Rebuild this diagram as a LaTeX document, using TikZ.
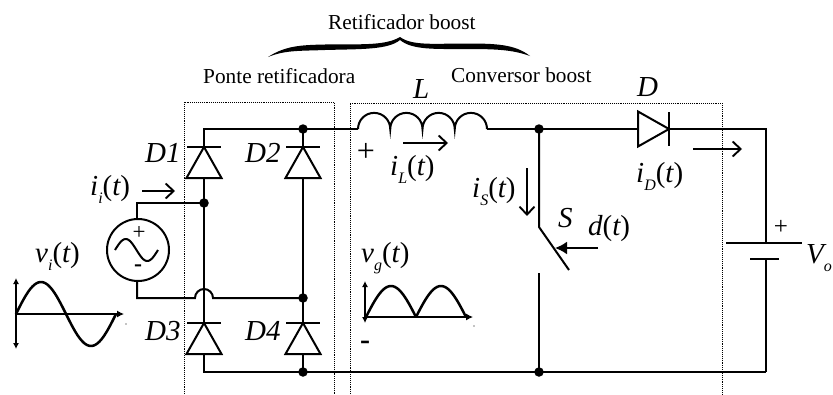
\documentclass[tikz,border=0pt]{standalone}
\usepackage{fontspec}
\setmainfont{Liberation Serif}
\usepackage{tikz}
\usetikzlibrary{arrows.meta,positioning,calc}

\newcommand{\subtxt}[1]{\raisebox{-.28em}{\fontsize{16}{16}\selectfont #1}}
\newcommand{\sigt}[2]{#1\subtxt{#2}{\upshape(}t{\upshape)}}

\tikzset{
  wire/.style={line width=2pt},
  thinwire/.style={line width=1.1pt},
  boxline/.style={line width=.9pt,densely dotted},
  openarrow/.style={line width=1.9pt,-{Straight Barb[length=8pt,width=15pt,line width=1.9pt]}},
  axisline/.style={line width=1.1pt,{Latex[length=6pt,width=6pt]}-{Latex[length=6pt,width=6pt]}},
  jdot/.style={circle,fill=black,inner sep=0pt,minimum size=9.5pt},
  lbl/.style={anchor=base west,inner sep=0pt,font=\fontsize{29}{31}\selectfont\itshape},
  txt/.style={anchor=base west,inner sep=0pt,font=\fontsize{21.3}{24}\selectfont},
  sgn/.style={inner sep=0pt,font=\fontsize{#1}{#1}\selectfont},
  diode/.pic={
    \coordinate (k) at (0,0);
    \coordinate (a) at (0,31);
    \draw[wire] (-17,0) -- (17,0);
    \draw[wire,line join=miter] (0,0) -- (17.5,31) -- (-17.5,31) -- cycle;
  }
}

\begin{document}
\begin{tikzpicture}[x=1pt,y=-1pt]
  \useasboundingbox (0,0) rectangle (833,394);

  % dotted blocks
  \draw[boxline] (184,394) -- (184,102) -- (334,102) -- (334,394);
  \draw[boxline] (350,394) -- (350,103) -- (722,103) -- (722,394);

  % junctions
  \node[jdot] (jtop)  at (303,129) {};
  \node[jdot] (jsrc)  at (204,203) {};
  \node[jdot] (jmid)  at (303,298) {};
  \node[jdot] (jbot)  at (303,372) {};
  \node[jdot] (jsw)   at (539,129) {};
  \node[jdot] (jswb)  at (539,372) {};

  % bridge
  \pic (D1) at (204,147) {diode};
  \pic (D2) at (303,147) {diode};
  \pic (D3) at (204,323) {diode};
  \pic (D4) at (303,323) {diode};
  \coordinate (tl) at (204,129);
  \coordinate (bl) at (204,372);
  \coordinate (hopl) at (195,298);
  \coordinate (br) at (766,372);
  \coordinate (tr) at (766,129);
  \draw[wire] (D1k) -- (tl) -- (jtop.center) -- (D2k);
  \draw[wire] (D1a) -- (jsrc.center) -- (D3k);
  \draw[wire] (D2a) -- (jmid.center) -- (D4k);
  \draw[wire] (D3a) -- (bl) -- (jbot.center) -- (D4a);

  % source
  \node[circle,draw,line width=2pt,minimum size=62pt,inner sep=0pt] (src) at (138,250) {};
  \coordinate (srct) at (137,203);
  \coordinate (srcb) at (137,298);
  \draw[wire] (jsrc.center) -- (srct) -- (src.north -| srct);
  \draw[wire] (src.south -| srcb) -- (srcb) -- (hopl)
    arc[start angle=180,end angle=360,radius=9] -- (jmid.center);
  \draw[wire] plot[domain=0:360,samples=40,smooth] ({115+\x/360*43},{250-11*sin(\x)});
  \node[sgn=23] (srcp) at (139,233) {+};
  \node[sgn=24,font=\fontsize{24}{24}\selectfont\bfseries] (srcm) at (138,268) {-};

  % inductor
  \coordinate (L1) at (358,129);
  \coordinate (L2) at (487,129);
  \draw[wire] (jtop.center) -- (L1);
  \draw[wire] (L1) \foreach \i in {1,...,4} {arc[start angle=180,end angle=360,radius=16.125]};
  \draw[wire] (L2) -- (jsw.center);

  % switch
  \coordinate (swa) at (539,227);
  \coordinate (swe) at (569,270);
  \coordinate (swb) at (539,273);
  \draw[wire] (jsw.center) -- (swa) -- (swe);
  \draw[wire] (swb) -- (jswb.center);
  \draw[wire] (jbot.center) -- (jswb.center) -- (br);

  % output diode and battery
  \pic[rotate=-90] (D5) at (669,129) {diode};
  \coordinate (bath) at (766,243);
  \coordinate (batl) at (766,259);
  \draw[wire] (jsw.center) -- (D5a);
  \draw[wire] (D5k) -- (tr) -- (bath);
  \draw[wire] (batl) -- (br);
  \draw[wire] (726,243) -- (802,243);
  \draw[wire] (750,259) -- (779,259);
  \node[sgn=25] (batp) at (781,227) {+};

  % current arrows
  \draw[openarrow] (142,191) -- (175,191);
  \draw[openarrow] (403,143) -- (448,143);
  \draw[openarrow] (693,149) -- (742,149);
  \draw[openarrow] (527,168) -- (527,216);
  \draw[wire,-{Latex[length=12pt,width=13pt]}] (598,248) -- (555,248);

  % input waveform
  \draw[axisline] (16,278) -- (16,349);
  \draw[thinwire,-{Latex[length=7pt,width=7pt]}] (16,314) -- (124,314);
  \draw[line width=2.5pt] plot[domain=0:360,samples=50,smooth] ({16+\x/3.6},{314-32*sin(\x)});
  \fill (126,324) circle (.6);

  % rectified waveform
  \draw[axisline] (365,281) -- (365,323);
  \draw[thinwire,-{Latex[length=7pt,width=7pt]}] (365,317) -- (473,317);
  \draw[line width=2.5pt] plot[domain=0:360,samples=60] ({366+\x/3.6},{317-31*abs(sin(\x))});
  \fill (474,326) circle (.6);
  \node[sgn=30,font=\fontsize{30}{30}\selectfont\bfseries] (vgm) at (365,345) {-};
  \node[sgn=32] (vgp) at (366,152) {+};

  % brace
  \fill (268,57) .. controls (285,46) and (300,45) .. (325,44.5)
    .. controls (360,44) and (385,46) .. (400,37)
    .. controls (412,46) and (435,43.5) .. (465,43.5)
    .. controls (495,43.5) and (515,44) .. (530,56)
    .. controls (512,49.5) and (495,49) .. (465,49)
    .. controls (435,49) and (412,50) .. (400,40)
    .. controls (388,50) and (360,49) .. (325,50)
    .. controls (300,51) and (285,50) .. cycle;

  % labels
  \node[txt] (rb) at (328,29) {Retificador boost};
  \node[txt] (pr) at (203,83) {Ponte retificadora};
  \node[txt] (cb) at (451,82) {Conversor boost};
  \node[lbl] (lD1) at (145,162) {D1};
  \node[lbl] (lD2) at (245,162) {D2};
  \node[lbl] (lD3) at (145,340) {D3};
  \node[lbl] (lD4) at (245,340) {D4};
  \node[lbl] (lii) at (90,195) {\sigt{i}{i}};
  \node[lbl] (lvi) at (35,262) {\sigt{v}{i}};
  \node[lbl] (lL) at (413,98) {L};
  \node[lbl] (lD) at (637,96) {D};
  \node[lbl] (liL) at (390,175) {\sigt{i}{L}};
  \node[lbl] (liS) at (472,197) {\sigt{i}{S}};
  \node[lbl] (liD) at (636,182) {\sigt{i}{D}};
  \node[lbl] (lS) at (558,227) {S};
  \node[lbl] (ldt) at (588,235) {d{\upshape(}t{\upshape)}};
  \node[lbl] (lvg) at (361,262) {\sigt{v}{g}};
  \node[lbl] (lVo) at (806,263) {V\subtxt{o}};
\end{tikzpicture}
\end{document}
